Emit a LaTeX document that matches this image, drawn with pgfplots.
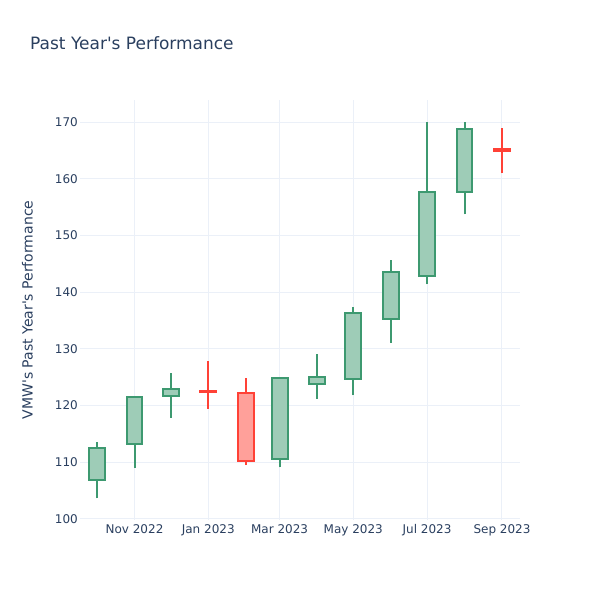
\documentclass[border=0pt]{standalone}
\usepackage{fontspec}
\setmainfont{DejaVu Sans}[Ligatures=TeXOff]
\usepackage{pgfplots}
\pgfplotsset{compat=1.18}
\definecolor{txt}{HTML}{2A3F5F}
\definecolor{gridc}{HTML}{EBF0F8}
\definecolor{incl}{HTML}{3D9970}
\definecolor{incf}{HTML}{9ECCB7}
\definecolor{decl}{HTML}{FF4136}
\definecolor{decf}{HTML}{FFA09A}
% #1 x, #2 left, #3 right, #4 open, #5 high, #6 low, #7 close, #8 inc/dec
\newcommand{\candle}[8]{%
  \addplot[color=#8l, line width=2pt, line cap=butt, forget plot] coordinates {(#1,#6) (#1,#5)};
  \addplot[draw=#8l, fill=#8f, line width=2pt, line join=miter, forget plot] coordinates {(#2,#4) (#3,#4) (#3,#7) (#2,#7)} -- cycle;
}
\begin{document}
\begin{tikzpicture}[x=1pt,y=1pt]
\useasboundingbox (-80,-80) rectangle (520,520);
\begin{axis}[at={(0,0)}, anchor=south west, scale only axis,
  width=440pt, height=420pt,
  xmin=-14.1, xmax=349.9, ymin=99.82, ymax=173.9,
  axis line style={draw=none}, major tick length=0pt,
  grid=major, grid style={color=gridc, line width=1pt},
  xtick={31,92,151,212,273,335},
  xticklabels={Nov 2022, Jan 2023, Mar 2023, May 2023, Jul 2023, Sep 2023},
  ytick={100,110,120,130,140,150,160,170},
  /pgf/number format/assume math mode=true,
  ticklabel style={font=\fontsize{12}{14}\selectfont, text=txt},
  yticklabel style={inner sep=0pt, anchor=east, xshift=-2pt},
  xticklabel style={inner sep=0pt, anchor=north, yshift=-4.6pt},
  ylabel={VMW's Past Year's Performance},
  every axis y label/.style={at={(axis description cs:-0.1193,0.5)}, rotate=90, anchor=center, font=\fontsize{14}{16}\selectfont, text=txt},
]
\candle{0}{-6.6}{6.6}{106.88}{113.58}{103.65}{112.57}{inc}
\candle{31}{24.4}{37.6}{113.23}{121.6}{109.05}{121.57}{inc}
\candle{61}{54.4}{67.6}{121.74}{125.75}{117.86}{122.87}{inc}
\candle{92}{85.4}{98.6}{122.62}{127.86}{119.45}{122.42}{dec}
\candle{123}{116.4}{129.6}{122.17}{124.81}{109.52}{110.28}{dec}
\candle{151}{144.4}{157.6}{110.58}{124.85}{109.12}{124.81}{inc}
\candle{182}{175.4}{188.6}{123.8}{129.1}{121.21}{125.04}{inc}
\candle{212}{205.4}{218.6}{124.63}{137.44}{121.81}{136.27}{inc}
\candle{243}{236.4}{249.6}{135.27}{145.67}{131.09}{143.61}{inc}
\candle{273}{266.4}{279.6}{142.9}{169.95}{141.39}{157.61}{inc}
\candle{304}{297.4}{310.6}{157.72}{170.1}{153.73}{168.72}{inc}
\candle{335}{328.4}{341.6}{165.2}{169.0}{160.96}{164.95}{dec}
\end{axis}
\node[anchor=base west, inner sep=0pt, font=\fontsize{17}{20}\selectfont, text=txt] at (-50,470) {Past Year's Performance};
\end{tikzpicture}
\end{document}
